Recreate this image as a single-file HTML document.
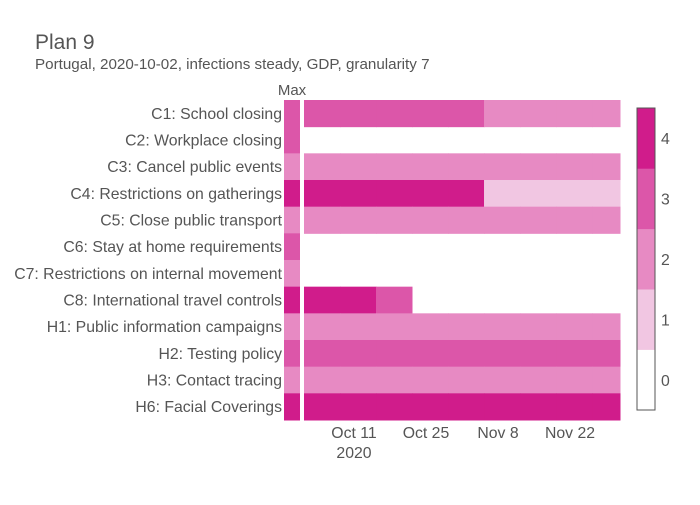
<!DOCTYPE html>
<html><head><meta charset="utf-8"><style>
body{margin:0;background:#fff;font-family:"Liberation Sans",Arial,sans-serif;}
</style></head><body>
<svg id="chart" width="700" height="500" xmlns="http://www.w3.org/2000/svg">
<text x="35" y="49" font-size="21" fill="#555">Plan 9</text>
<text x="35" y="69" font-size="15.2" fill="#555">Portugal, 2020-10-02, infections steady, GDP, granularity 7</text>
<text x="292" y="95" font-size="15" fill="#555" text-anchor="middle">Max</text>
<g id="rows"></g><g id="cells"></g><g id="xticks"></g><g id="cbar"></g>
</svg>
<script>
const categories=["C1: School closing","C2: Workplace closing","C3: Cancel public events","C4: Restrictions on gatherings","C5: Close public transport","C6: Stay at home requirements","C7: Restrictions on internal movement","C8: International travel controls","H1: Public information campaigns","H2: Testing policy","H3: Contact tracing","H6: Facial Coverings"];
const maxValues=[3,3,2,4,2,3,2,4,2,3,2,4];
const N=null;
const c1=[3,3,3,3,3,2,2,2,2];
const c2=[N,N,N,N,N,N,N,N,N];
const c3=[2,2,2,2,2,2,2,2,2];
const c4=[4,4,4,4,4,1,1,1,1];
const c5=[2,2,2,2,2,2,2,2,2];
const c6=[N,N,N,N,N,N,N,N,N];
const c7=[N,N,N,N,N,N,N,N,N];
const c8=[4,4,3,N,N,N,N,N,N];
const h1=[2,2,2,2,2,2,2,2,2];
const h2=[3,3,3,3,3,3,3,3,3];
const h3=[2,2,2,2,2,2,2,2,2];
const h6=[4,4,4,4,4,4,4,4,4];
const seriesValues=[c1,c2,c3,c4,c5,c6,c7,c8,h1,h2,h3,h6];
const cellStartDays=[-0.72,6.28,13.28,20.28,27.28,34.28,41.28,48.28,55.28];
const tickDays=[9,23,37,51];
const tickLabels=["Oct 11","Oct 25","Nov 8","Nov 22"];
const cbarTicks=[0,1,2,3,4];
const colors=["#ffffff","#f1c6e2","#e78ac3","#dc56a9","#d01c8b"];
const NS="http://www.w3.org/2000/svg";
const X0=304,X1=620,D0=-0.72,D1=60.72,Y0=100,Y1=420;
const xs=d=>X0+(Math.max(D0,Math.min(D1,d))-D0)/(D1-D0)*(X1-X0);
const rh=(Y1-Y0)/categories.length;
const ys=i=>Y0+i*rh;
function mk(t,a,p){const e=document.createElementNS(NS,t);for(const k in a)e.setAttribute(k,a[k]);p.appendChild(e);return e;}
const rows=document.getElementById('rows'),cells=document.getElementById('cells');
categories.forEach((c,i)=>{
 const t=mk('text',{x:282,y:ys(i)+rh/2+5.5,'font-size':15.8,fill:'#555','text-anchor':'end'},rows);
 t.textContent=c;
 
 
 const m=mk('rect',{x:284,y:ys(i),width:16,height:rh+0.5,fill:colors[maxValues[i]]},cells);
 
 
 seriesValues[i].forEach((v,j)=>{
  if(v===null)return;
  const a=xs(cellStartDays[j]),b=xs(cellStartDays[j]+7);
  const r=mk('rect',{x:a,y:ys(i),width:b-a+0.5,height:rh+0.5,fill:colors[v]},cells);
  
  
 });
});
const xt=document.getElementById('xticks');
tickDays.forEach((d,i)=>{
 const t=mk('text',{x:xs(d),y:438,'font-size':15.8,fill:'#555','text-anchor':'middle'},xt);
 t.textContent=tickLabels[i];
 
 
});
const yr=mk('text',{x:xs(9),y:458,'font-size':15.8,fill:'#555','text-anchor':'middle'},xt);
yr.textContent="2020";


const cb=document.getElementById('cbar');
const CB0=108,CB1=410,bh=(CB1-CB0)/5;
cbarTicks.forEach(v=>{
 const y=CB1-(v+1)*bh;
 const r=mk('rect',{x:637,y:y,width:18,height:bh+0.3,fill:colors[v]},cb);
 
 
 const t=mk('text',{x:661,y:y+bh/2+6,'font-size':15.8,fill:'#555'},cb);
 t.textContent=String(v);
 
 
});
const o=mk('rect',{x:637,y:CB0,width:18,height:CB1-CB0,fill:'none',stroke:'#555','stroke-width':1},cb);


</script>
</body></html>
